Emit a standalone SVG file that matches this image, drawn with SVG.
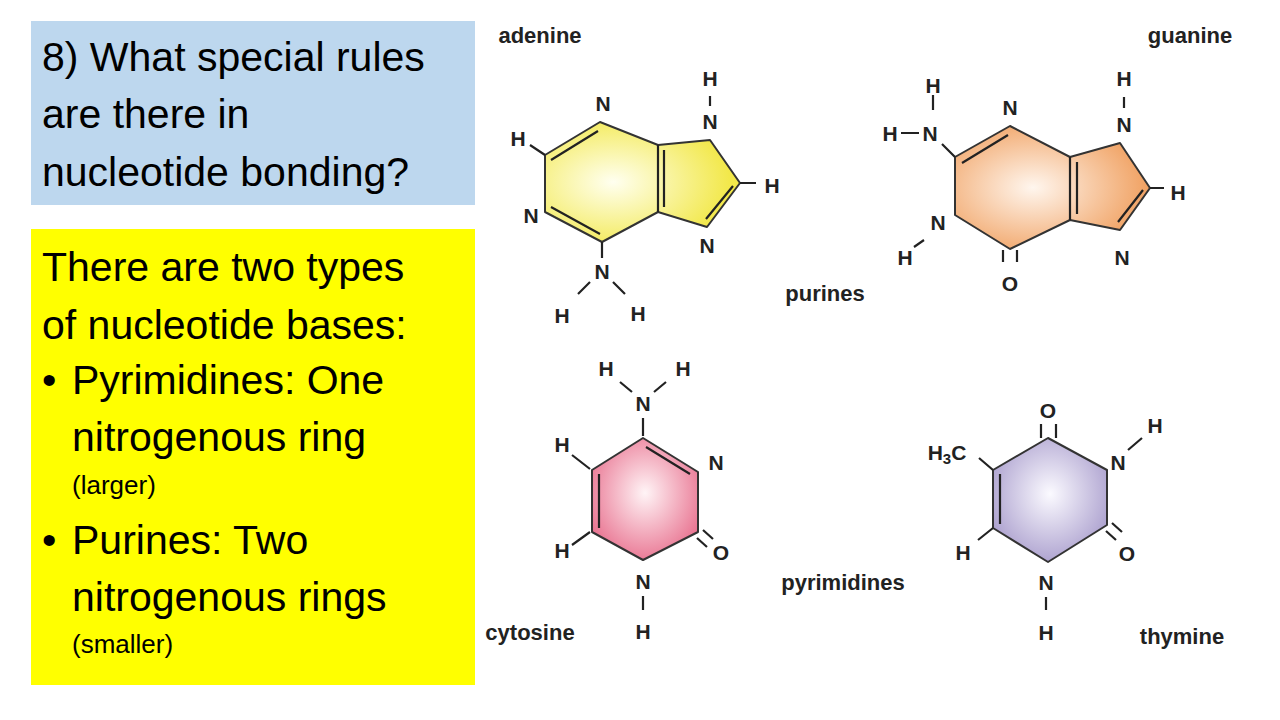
<svg xmlns="http://www.w3.org/2000/svg" width="1280" height="720" viewBox="0 0 1280 720">
<style>
.t{font-family:"Liberation Sans",Arial,sans-serif;fill:#000}
.big{font-size:41px}
.sm{font-size:26px}
.a{font-family:"Liberation Sans",Arial,sans-serif;font-weight:bold;font-size:21px;fill:#222;text-anchor:middle}
.lbl{font-family:"Liberation Sans",Arial,sans-serif;font-weight:bold;font-size:22px;fill:#222;text-anchor:middle}
.ring{stroke:#333;stroke-width:2;stroke-linejoin:round}
.b{stroke:#222;stroke-width:2.2;fill:none}
</style>
<defs>
<radialGradient id="gy" cx="0.35" cy="0.5" r="0.6"><stop offset="0" stop-color="#fffff0"/><stop offset="1" stop-color="#f2e84a"/></radialGradient>
<radialGradient id="go" cx="0.4" cy="0.5" r="0.6"><stop offset="0" stop-color="#fff6ee"/><stop offset="1" stop-color="#f0a060"/></radialGradient>
<radialGradient id="gp" cx="0.5" cy="0.45" r="0.6"><stop offset="0" stop-color="#fff4f6"/><stop offset="1" stop-color="#e8708e"/></radialGradient>
<radialGradient id="gv" cx="0.5" cy="0.45" r="0.6"><stop offset="0" stop-color="#fbfaff"/><stop offset="1" stop-color="#a89ccc"/></radialGradient>
</defs>
<rect width="1280" height="720" fill="#fff"/>
<g id="question">
<rect x="31" y="21" width="444" height="184" fill="#BDD7EE"/>
<text class="t big" x="42" y="71">8) What special rules</text>
<text class="t big" x="42" y="128">are there in</text>
<text class="t big" x="42" y="186">nucleotide bonding?</text>
</g>
<g id="answer">
<rect x="31" y="229" width="444" height="456" fill="#FFFF00"/>
<text class="t big" x="42" y="281">There are two types</text>
<text class="t big" x="42" y="339">of nucleotide bases:</text>
<text class="t big" x="42" y="394">•</text>
<text class="t big" x="72" y="394">Pyrimidines: One</text>
<text class="t big" x="72" y="451">nitrogenous ring</text>
<text class="t sm" x="72" y="494">(larger)</text>
<text class="t big" x="42" y="554">•</text>
<text class="t big" x="72" y="554">Purines: Two</text>
<text class="t big" x="72" y="611">nitrogenous rings</text>
<text class="t sm" x="72" y="653">(smaller)</text>
</g>
<g id="adenine">
<path class="ring" fill="url(#gy)" d="M600,122 L658,145 L710,140 L740,183 L707,227 L658,212 L602,242 L545,212 L545,155 Z"/>
<path class="b" d="M658,145 L658,212 M551,160 L598,131 M551,207 L600,234 M664,150 L664,207 M733,186 L706,219 M710,96 L710,106 M740,183 L756,183 M545,155 L530,145 M602,242 L602,258 M590,282 L578,294 M613,282 L625,294"/>
<text class="lbl" x="540" y="43">adenine</text>
<text class="a" x="603" y="111">N</text>
<text class="a" x="518" y="146">H</text>
<text class="a" x="531" y="223">N</text>
<text class="a" x="707" y="253">N</text>
<text class="a" x="710" y="86">H</text>
<text class="a" x="710" y="129">N</text>
<text class="a" x="772" y="193">H</text>
<text class="a" x="602" y="279">N</text>
<text class="a" x="562" y="323">H</text>
<text class="a" x="638" y="321">H</text>
<text class="lbl" x="825" y="301">purines</text>
</g>
<g id="guanine">
<path class="ring" fill="url(#go)" d="M1010,126 L1070,157 L1120,143 L1150,188 L1120,230 L1070,220 L1010,249 L955,215 L955,157 Z"/>
<path class="b" d="M1070,157 L1070,220 M962,163 L1008,135 M1077,162 L1077,214 M1143,190 L1118,222 M1124,97 L1124,108 M1150,188 L1164,188 M955,157 L942,144 M901,133 L919,133 M933,95 L933,110 M914,247 L924,240 M1003,250 L1003,262 M1017,250 L1017,262"/>
<text class="lbl" x="1190" y="43">guanine</text>
<text class="a" x="933" y="93">H</text>
<text class="a" x="890" y="141">H</text>
<text class="a" x="930" y="141">N</text>
<text class="a" x="1010" y="115">N</text>
<text class="a" x="938" y="230">N</text>
<text class="a" x="905" y="265">H</text>
<text class="a" x="1010" y="291">O</text>
<text class="a" x="1124" y="86">H</text>
<text class="a" x="1124" y="132">N</text>
<text class="a" x="1178" y="200">H</text>
<text class="a" x="1122" y="265">N</text>
</g>
<g id="cytosine">
<path class="ring" fill="url(#gp)" d="M643,438 L698,472 L698,532 L643,560 L592,532 L592,470 Z"/>
<path class="b" d="M646,447 L690,474 M599,474 L599,528 M643,418 L643,436 M572,455 L590,469 M572,545 L590,532 M697,538 L707,547 M703,530 L713,539 M643,596 L643,610 M620,382 L632,392 M666,382 L654,392"/>
<text class="a" x="606" y="376">H</text>
<text class="a" x="683" y="376">H</text>
<text class="a" x="643" y="411">N</text>
<text class="a" x="716" y="470">N</text>
<text class="a" x="562" y="452">H</text>
<text class="a" x="562" y="558">H</text>
<text class="a" x="721" y="560">O</text>
<text class="a" x="643" y="589">N</text>
<text class="a" x="643" y="639">H</text>
<text class="lbl" x="530" y="640">cytosine</text>
<text class="lbl" x="843" y="590">pyrimidines</text>
</g>
<g id="thymine">
<path class="ring" fill="url(#gv)" d="M1048,438 L1107,470 L1107,525 L1048,562 L993,528 L993,470 Z"/>
<path class="b" d="M1000,474 L1000,524 M1041,424 L1041,438 M1056,424 L1056,438 M993,470 L979,458 M993,528 L978,540 M1106,531 L1116,540 M1112,523 L1122,532 M1046,597 L1046,610 M1128,450 L1142,438"/>
<text class="a" x="1048" y="418">O</text>
<text class="a" x="947" y="460">H<tspan font-size="15" dy="4">3</tspan><tspan dy="-4">C</tspan></text>
<text class="a" x="1118" y="470">N</text>
<text class="a" x="1155" y="433">H</text>
<text class="a" x="1127" y="561">O</text>
<text class="a" x="963" y="560">H</text>
<text class="a" x="1046" y="590">N</text>
<text class="a" x="1046" y="640">H</text>
<text class="lbl" x="1182" y="644">thymine</text>
</g>
</svg>
